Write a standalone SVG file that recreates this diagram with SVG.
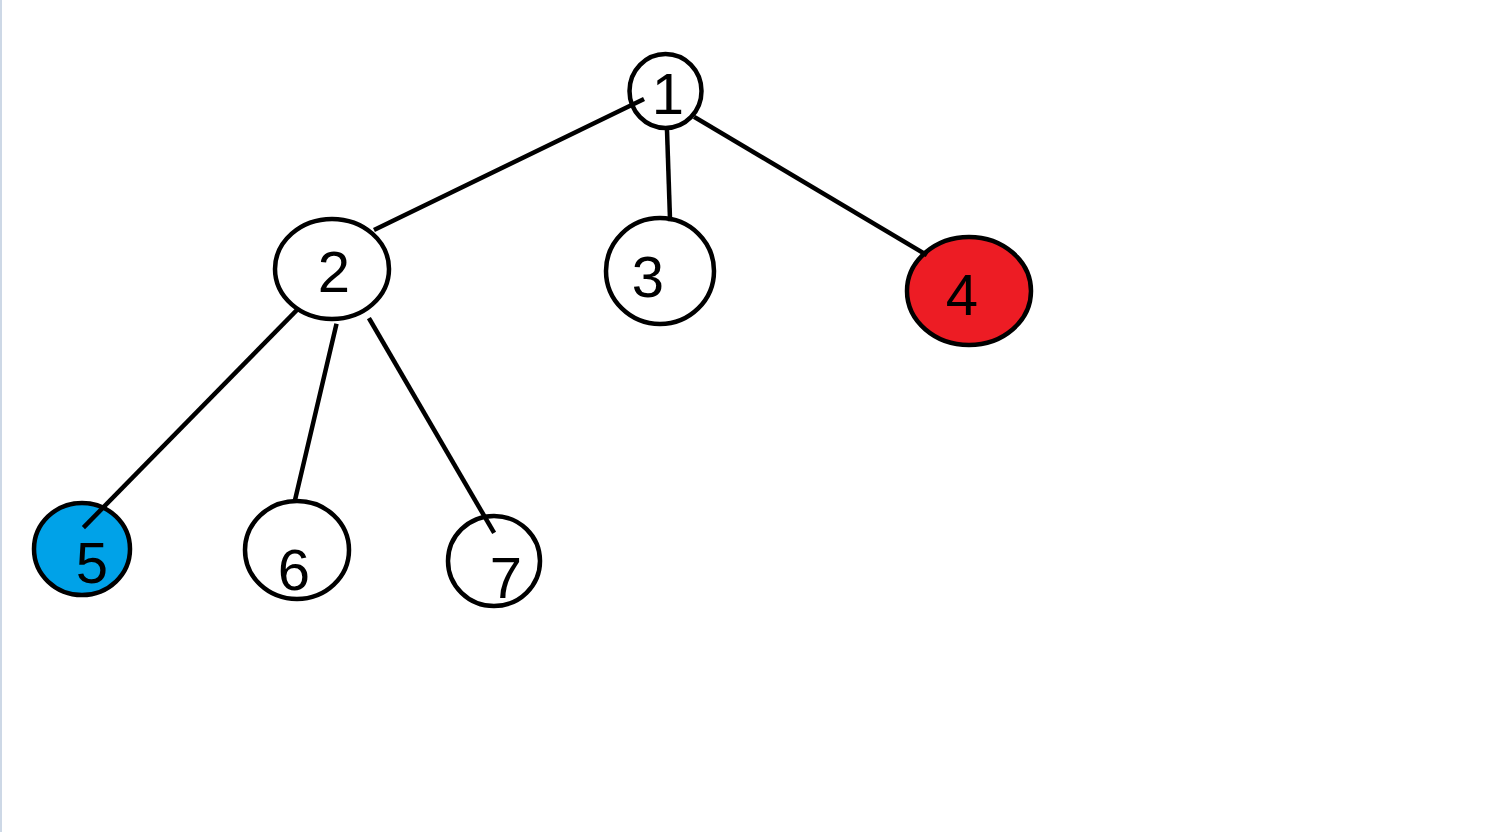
<svg xmlns="http://www.w3.org/2000/svg" width="1499" height="832" viewBox="0 0 1499 832">
<style>
.n{stroke:#000;stroke-width:4.5;fill:#fff}
.e{stroke:#000;stroke-width:4.5;stroke-linecap:square}
.t{font-family:"Liberation Sans",Arial,sans-serif;font-size:58px;fill:#000;text-anchor:middle}
</style>
<rect x="0" y="0" width="1499" height="832" fill="#fff"/>
<rect x="0" y="0" width="2" height="832" fill="#cdd8e6"/>
<g id="node1"><ellipse class="n" cx="665.5" cy="91" rx="36" ry="37"/><text class="t" x="668" y="114">1</text></g>
<g id="node2"><ellipse class="n" cx="332" cy="269" rx="57" ry="50"/><text class="t" x="334" y="292">2</text></g>
<g id="node3"><ellipse class="n" cx="660" cy="271" rx="54" ry="53"/><text class="t" x="648" y="297">3</text></g>
<g id="node4"><ellipse class="n" cx="969" cy="291" rx="62" ry="54" style="fill:#ed1c24"/><text class="t" x="962" y="315">4</text></g>
<g id="node5"><ellipse class="n" cx="82" cy="549" rx="48" ry="46" style="fill:#00a2e8"/><text class="t" x="92" y="583">5</text></g>
<g id="node6"><ellipse class="n" cx="297" cy="550" rx="52" ry="49"/><text class="t" x="294" y="590">6</text></g>
<g id="node7"><ellipse class="n" cx="494" cy="561" rx="46" ry="45"/><text class="t" x="506" y="598">7</text></g>
<g id="connectors">
<line class="e" x1="642" y1="100" x2="376" y2="229"/>
<line class="e" x1="667" y1="130" x2="670" y2="219"/>
<line class="e" x1="696" y1="118" x2="925" y2="254"/>
<line class="e" x1="296" y1="311" x2="85" y2="526"/>
<line class="e" x1="336" y1="326" x2="295" y2="500"/>
<line class="e" x1="370" y1="320" x2="493" y2="531"/>
</g>
</svg>
